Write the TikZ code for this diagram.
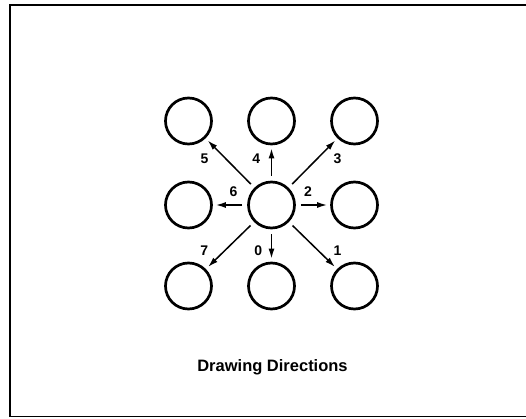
\documentclass[tikz,border=0pt]{standalone}
\usepackage{fontspec}
\setmainfont{Liberation Sans}
\usetikzlibrary{positioning, arrows.meta}

\begin{document}
\begin{tikzpicture}[x=1pt, y=1pt, on grid,
    cell/.style={draw, circle, line width=2.7pt, minimum size=46pt, inner sep=0pt},
    dirarrow/.style={-{Latex[length=10pt, width=6pt]}, line width=1.5pt, shorten <=5pt, shorten >=3pt},
    dirnum/.style={font=\fontsize{14}{14}\selectfont\bfseries, inner sep=0pt}]
  \useasboundingbox (0,0) rectangle (526,418);
  % frame
  \draw[line width=1.6pt] (526,413) -| (10,1.5) -- (526,1.5);
  % grid of cells
  \node (c) [cell] at (271.5,213) {};
  \node (t) [cell, above=84pt of c] {};
  \node (b) [cell, below=81pt of c] {};
  \node (l) [cell, left=83pt of c] {};
  \node (r) [cell, right=83pt of c] {};
  \node (tl) [cell, above left=84pt and 83pt of c] {};
  \node (tr) [cell, above right=84pt and 83pt of c] {};
  \node (bl) [cell, below left=81pt and 83pt of c] {};
  \node (br) [cell, below right=81pt and 83pt of c] {};
  % directions
  \draw[dirarrow] (c) -- node[dirnum, xshift=-13.2pt, yshift=-5.6pt] (n0) {0} (b);
  \draw[dirarrow] (c) -- node[dirnum, xshift=24.6pt, yshift=-5.6pt] (n1) {1} (br);
  \draw[dirarrow] (c) -- node[dirnum, xshift=-5pt, yshift=13.7pt] (n2) {2} (r);
  \draw[dirarrow] (c) -- node[dirnum, xshift=24.6pt, yshift=4pt] (n3) {3} (tr);
  \draw[dirarrow] (c) -- node[dirnum, xshift=-15.3pt, yshift=4pt] (n4) {4} (t);
  \draw[dirarrow] (c) -- node[dirnum, xshift=-25.5pt, yshift=4pt] (n5) {5} (tl);
  \draw[dirarrow] (c) -- node[dirnum, xshift=3.5pt, yshift=13.7pt] (n6) {6} (l);
  \draw[dirarrow] (c) -- node[dirnum, xshift=-25.8pt, yshift=-5.6pt] (n7) {7} (bl);
  % caption
  \node (title) [anchor=base, font=\fontsize{16.5}{16.5}\selectfont\bfseries] at (272.5,47) {Drawing Directions};
\end{tikzpicture}
\end{document}
